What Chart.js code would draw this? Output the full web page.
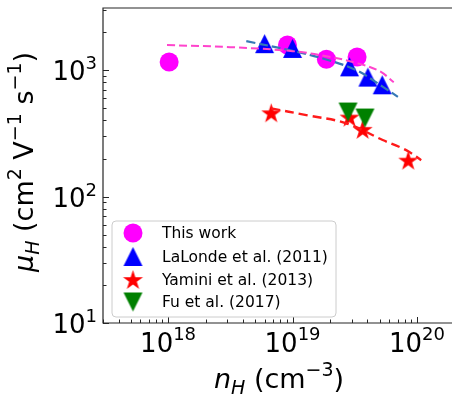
<!DOCTYPE html>
<html>
<head>
<meta charset="utf-8">
<script src="https://cdn.jsdelivr.net/npm/chart.js@4.4.0/dist/chart.umd.min.js"></script>
<style>
html, body { margin: 0; padding: 0; background: #fff; overflow: hidden; }
#wrap { width: 452px; height: 398px; }
</style>
</head>
<body>
<div id="wrap"><canvas id="chart" width="452" height="398"></canvas></div>
<script>
// Hall carrier concentration n_H (cm^-3) vs Hall mobility mu_H (cm^2 V^-1 s^-1)
const thisWorkN = [1.02e18, 9.1e18, 1.87e19, 3.3e19];
const thisWorkMu = [1160, 1580, 1220, 1270];
const lalondeN = [5.96e18, 1.0e19, 2.87e19, 4.03e19, 5.25e19];
const lalondeMu = [1619, 1485, 1062, 881, 766];
const yaminiN = [6.74e18, 2.87e19, 3.66e19, 8.5e19];
const yaminiMu = [460, 425, 340, 194];
const fuN = [2.79e19, 3.82e19];
const fuMu = [466, 418];

// dashed model curves
const fitThisN = [0.98e18, 3.15e18, 1.0e19, 1.87e19, 3.3e19, 5.0e19, 6.5e19];
const fitThisMu = [1577, 1520, 1413, 1290, 1136, 982, 803];
const fitLalondeN = [4.25e18, 9.46e18, 1.75e19, 3.25e19, 5.32e19, 7.02e19];
const fitLalondeMu = [1694, 1439, 1237, 1000, 738, 615];
const fitYaminiN = [6.74e18, 1.29e19, 2.70e19, 5.3e19, 8.18e19, 1.08e20];
const fitYaminiMu = [498, 441, 380, 280, 233, 194];

const xDecades = [18, 19, 20];
const yDecades = [1, 2, 3];
const legendLabels = ['This work', 'LaLonde et al. (2011)', 'Yamini et al. (2013)', 'Fu et al. (2017)'];

const FONT = '"DejaVu Sans", sans-serif';

// marker images (matplotlib-like shapes)
function makeTriangle(color, size, down) {
    const c = document.createElement('canvas');
    const s = Math.ceil(size + 2);
    c.width = s; c.height = s;
    const g = c.getContext('2d');
    const h = size / 2, m = s / 2;
    g.fillStyle = color;
    g.beginPath();
    if (down) {
        g.moveTo(m, m + h); g.lineTo(m - h, m - h); g.lineTo(m + h, m - h);
    } else {
        g.moveTo(m, m - h); g.lineTo(m - h, m + h); g.lineTo(m + h, m + h);
    }
    g.closePath();
    g.fill();
    return c;
}

function makeStar(color, R) {
    const c = document.createElement('canvas');
    const s = Math.ceil(R * 2 + 2);
    c.width = s; c.height = s;
    const g = c.getContext('2d');
    g.fillStyle = color;
    g.beginPath();
    for (let i = 0; i < 10; i++) {
        const r = i % 2 === 0 ? R : R * 0.382;
        const a = -Math.PI / 2 + i * Math.PI / 5;
        const px = s / 2 + r * Math.cos(a), py = s / 2 + r * Math.sin(a) + R * 0.1;
        i ? g.lineTo(px, py) : g.moveTo(px, py);
    }
    g.closePath();
    g.fill();
    return c;
}

const triUp = makeTriangle('#0000ff', 19, false);
const triDown = makeTriangle('#008000', 19, true);
const star = makeStar('#ff0000', 10.5);

const pts = (xs, ys) => xs.map((x, i) => ({ x: x, y: ys[i] }));

const fitLine = (xs, ys, color, width, dash) => ({
    label: 'fit',
    data: pts(xs, ys),
    showLine: true,
    borderColor: color,
    borderWidth: width,
    borderDash: dash,
    pointRadius: 0,
    tension: 0.35,
    fill: false,
    order: 0
});

// inward ticks, spines, mathtext-like labels, legend
const decorPlugin = {
    id: 'decor',
    afterDraw(chart) {
        const ctx = chart.ctx;
        const a = chart.chartArea;
        const xs = chart.scales.x, ys = chart.scales.y;
        ctx.save();
        ctx.strokeStyle = '#262626';
        ctx.lineWidth = 1.2;
        ctx.beginPath();
        ctx.moveTo(chart.width, a.top);
        ctx.lineTo(a.left, a.top);
        ctx.lineTo(a.left, a.bottom);
        ctx.lineTo(chart.width, a.bottom);
        ctx.stroke();

        ctx.lineWidth = 1;
        ctx.beginPath();
        for (let d = 17; d <= 20; d++) {
            for (let m = 1; m <= 9; m++) {
                const v = m * Math.pow(10, d);
                if (v < xs.min || v > xs.max) continue;
                const p = Math.round(xs.getPixelForValue(v)) + 0.5;
                ctx.moveTo(p, a.bottom);
                ctx.lineTo(p, a.bottom - (m === 1 ? 6 : 3.5));
            }
        }
        for (let d = 1; d <= 3; d++) {
            for (let m = 1; m <= 9; m++) {
                const v = m * Math.pow(10, d);
                if (v < ys.min || v > ys.max) continue;
                const p = Math.round(ys.getPixelForValue(v)) + 0.5;
                ctx.moveTo(a.left, p);
                ctx.lineTo(a.left + (m === 1 ? 6 : 3.5), p);
            }
        }
        ctx.stroke();

        ctx.fillStyle = '#000';
        ctx.textBaseline = 'alphabetic';
        const base = '26px ' + FONT, sup = '18px ' + FONT;
        const runWidth = runs => runs.reduce((w, r) => { ctx.font = r.font; return w + ctx.measureText(r.text).width; }, 0);
        const drawRuns = (runs, x, y) => {
            runs.forEach(r => {
                ctx.font = r.font;
                ctx.fillText(r.text, x, y + (r.dy || 0));
                x += ctx.measureText(r.text).width;
            });
        };

        xDecades.forEach(d => {
            const runs = [{ text: '10', font: base }, { text: String(d), font: sup, dy: -12 }];
            const w = runWidth(runs);
            drawRuns(runs, xs.getPixelForValue(Math.pow(10, d)) - w / 2, 352);
        });
        yDecades.forEach(d => {
            const runs = [{ text: '10', font: base }, { text: String(d), font: sup, dy: -11 }];
            const w = runWidth(runs);
            drawRuns(runs, a.left - 6 - w, ys.getPixelForValue(Math.pow(10, d)) + 10);
        });

        // axis titles
        const tb = '27px ' + FONT, ti = 'italic 27px ' + FONT;
        const ts = '19px ' + FONT, tsi = 'italic 19px ' + FONT;
        const xRuns = [
            { text: 'n', font: ti }, { text: 'H', font: tsi, dy: 6 },
            { text: ' (cm', font: tb }, { text: '\u22123', font: ts, dy: -12 }, { text: ')', font: tb }
        ];
        drawRuns(xRuns, 279 - runWidth(xRuns) / 2, 388);

        const yRuns = [
            { text: '\u03bc', font: ti }, { text: 'H', font: tsi, dy: 6 },
            { text: ' (cm', font: tb }, { text: '2', font: ts, dy: -12 },
            { text: ' V', font: tb }, { text: '\u22121', font: ts, dy: -12 },
            { text: ' s', font: tb }, { text: '\u22121', font: ts, dy: -12 }, { text: ')', font: tb }
        ];
        ctx.save();
        ctx.translate(33, 162);
        ctx.rotate(-Math.PI / 2);
        drawRuns(yRuns, -runWidth(yRuns) / 2, 0);
        ctx.restore();

        // legend
        const lx = 112, ly = 221, lw = 224, lh = 96, rr = 4;
        ctx.beginPath();
        ctx.moveTo(lx + rr, ly);
        ctx.arcTo(lx + lw, ly, lx + lw, ly + lh, rr);
        ctx.arcTo(lx + lw, ly + lh, lx, ly + lh, rr);
        ctx.arcTo(lx, ly + lh, lx, ly, rr);
        ctx.arcTo(lx, ly, lx + lw, ly, rr);
        ctx.closePath();
        ctx.fillStyle = 'rgba(255,255,255,0.8)';
        ctx.fill();
        ctx.strokeStyle = '#cccccc';
        ctx.lineWidth = 1;
        ctx.stroke();

        const rows = [233, 256.5, 279.5, 302];
        const mx = 133;
        ctx.fillStyle = '#ff00ff';
        ctx.beginPath();
        ctx.arc(mx, rows[0], 9.5, 0, Math.PI * 2);
        ctx.fill();
        [triUp, star, triDown].forEach((img, i) => {
            ctx.drawImage(img, mx - img.width / 2, rows[i + 1] - img.height / 2);
        });
        ctx.fillStyle = '#000';
        ctx.font = '15.5px ' + FONT;
        ctx.textBaseline = 'middle';
        legendLabels.forEach((t, i) => ctx.fillText(t, 162, rows[i] + 1));
        ctx.restore();
    }
};

const hiddenAxis = (min, max) => ({
    type: 'logarithmic',
    min: min,
    max: max,
    ticks: { display: false },
    grid: { display: false, drawTicks: false, tickLength: 0 },
    border: { display: false }
});

const config = {
    type: 'scatter',
    data: {
        datasets: [
            fitLine(fitThisN, fitThisMu, '#ff44cc', 2, [8, 4]),
            fitLine(fitLalondeN, fitLalondeMu, '#3579b5', 2.2, [9, 4]),
            fitLine(fitYaminiN, fitYaminiMu, '#ff1a1a', 2.4, [9, 5]),
            { label: legendLabels[3], data: pts(fuN, fuMu), pointStyle: triDown, pointRadius: 10, order: 1 },
            { label: legendLabels[2], data: pts(yaminiN, yaminiMu), pointStyle: star, pointRadius: 10, order: 2 },
            { label: legendLabels[1], data: pts(lalondeN, lalondeMu), pointStyle: triUp, pointRadius: 10, order: 3 },
            { label: legendLabels[0], data: pts(thisWorkN, thisWorkMu), pointStyle: 'circle', pointRadius: 9.5,
              backgroundColor: '#ff00ff', borderWidth: 0, order: 4 }
        ]
    },
    options: {
        responsive: false,
        animation: false,
        devicePixelRatio: 1,
        clip: false,
        layout: { autoPadding: false, padding: { left: 103, top: 8, right: 0, bottom: 75 } },
        scales: {
            x: hiddenAxis(3e17, 1.91e20),
            y: hiddenAxis(10, 3100)
        },
        plugins: {
            legend: { display: false },
            tooltip: { enabled: false }
        }
    },
    plugins: [decorPlugin]
};

const chart = new Chart(document.getElementById('chart'), config);

// pull the plot box onto the reference frame (left 103, top 8, right 452, bottom 323)
const ca = chart.chartArea;
const pad = chart.options.layout.padding;
chart.options.layout.padding = {
    left: pad.left + (103 - ca.left),
    top: pad.top + (8 - ca.top),
    right: pad.right + (ca.right - 452),
    bottom: pad.bottom + (ca.bottom - 323)
};
chart.update();
</script>
</body>
</html>
